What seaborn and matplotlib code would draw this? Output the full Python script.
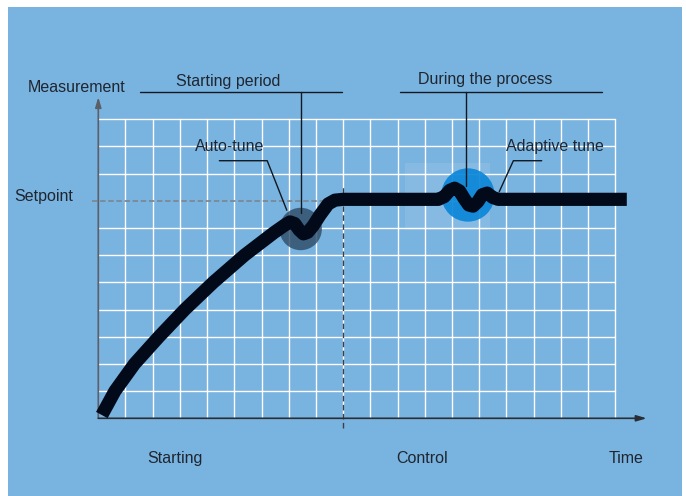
import matplotlib
matplotlib.use("Agg")
import matplotlib.pyplot as plt
from matplotlib.patches import Rectangle, Circle
import seaborn as sns
import pandas as pd

# ---- data (grid units: one cell = 1) ----
curve_x = [0.13, 0.61, 1.33, 2.23, 3.18, 4.23, 5.38, 6.45, 6.85, 7.05, 7.22, 7.38, 7.54,
           7.70, 7.90, 8.15, 8.45, 8.70, 9.00, 12.50, 12.72, 12.92, 13.10, 13.28, 13.45,
           13.62, 13.78, 13.95, 14.12, 14.30, 14.50, 14.70, 19.43]
curve_y = [0.12, 1.00, 2.00, 3.00, 4.00, 5.00, 6.00, 6.82, 7.10, 7.22, 7.16, 6.93, 6.78,
           6.84, 7.08, 7.47, 7.88, 8.02, 8.05, 8.05, 8.15, 8.38, 8.46, 8.36, 8.08,
           7.84, 7.80, 7.96, 8.22, 8.28, 8.12, 8.05, 8.05]
setpoint = 8.0
phase_split = 9.0
n_cols = 19
n_rows = 11
region_labels = ["Starting", "Control"]
region_x = [2.82, 11.9]

sns.set_style("white")
plt.rcParams["font.family"] = ["Liberation Sans", "DejaVu Sans"]

TXT = "#1f2630"
FS = 11.5

fig = plt.figure(figsize=(6.86, 4.96), dpi=100)
fig.patch.set_facecolor("white")
ax = fig.add_axes([0, 0, 1, 1])

# blue panel
ax.add_patch(Rectangle((8 / 686, 0), (682 - 8) / 686, (496 - 7) / 496,
                       transform=ax.transAxes, facecolor="#79b3e0", edgecolor="none", zorder=0))

# grid
for i in range(1, n_cols + 1):
    ax.plot([i, i], [0, n_rows], color="white", lw=1.0, zorder=1)
for j in range(1, n_rows + 1):
    if j == int(setpoint):
        ax.plot([phase_split, n_cols], [j, j], color="white", lw=1.0, zorder=1)
    else:
        ax.plot([0, n_cols], [j, j], color="white", lw=1.0, zorder=1)

# pale box behind adaptive tune
ax.add_patch(Rectangle((11.28, 6.93), 3.12, 2.46, facecolor="white", alpha=0.1,
                       edgecolor="none", zorder=1.5))

# setpoint dashed line
ax.plot([-0.24, phase_split], [setpoint, setpoint], color="#7c8894", lw=1.3,
        ls=(0, (3, 1.5)), zorder=2)
# phase split dashed vertical
ax.plot([phase_split, phase_split], [-0.36, 8.57], color="#3a3f46", lw=1.0,
        ls=(0, (4, 2.5)), zorder=2)

# axes
ax.annotate("", xy=(0, 11.81), xytext=(0, 0),
            arrowprops=dict(arrowstyle="-|>,head_length=0.6,head_width=0.18",
                            color="#5b6068", lw=1.2, shrinkA=0, shrinkB=0), zorder=3)
ax.annotate("", xy=(20.16, 0), xytext=(0, 0),
            arrowprops=dict(arrowstyle="-|>,head_length=0.6,head_width=0.18",
                            color="#2a2e34", lw=1.2, shrinkA=0, shrinkB=0), zorder=3)

# circles
ax.add_patch(Circle((7.44, 6.96), 0.78, facecolor="#2e4a66", alpha=0.8,
                    edgecolor="none", zorder=3))
ax.add_patch(Circle((13.59, 8.21), 0.98, facecolor="#0a86d8", alpha=0.92,
                    edgecolor="none", zorder=3))

# annotation lines
lc = "#111820"
ax.plot([1.53, 8.96], [12.0, 12.0], color=lc, lw=1.0, zorder=4)
ax.plot([7.44, 7.44], [12.0, 7.54], color=lc, lw=1.0, zorder=4)
ax.plot([11.1, 18.5], [12.0, 12.0], color=lc, lw=1.0, zorder=4)
ax.plot([13.52, 13.52], [12.0, 8.54], color=lc, lw=1.0, zorder=4)
ax.plot([4.45, 6.21, 6.93], [9.47, 9.47, 7.65], color=lc, lw=1.0, zorder=4)
ax.plot([16.30, 15.26, 14.74], [9.47, 9.47, 8.33], color=lc, lw=1.0, zorder=4)

# main curve
df = pd.DataFrame({"t": curve_x, "m": curve_y})
sns.lineplot(data=df, x="t", y="m", sort=False, estimator=None, ax=ax,
             color="#020a1a", linewidth=9.5, zorder=5)
ln = ax.get_lines()[-1]
ln.set_solid_capstyle("butt")
ln.set_solid_joinstyle("round")
ax.set_xlim(-98.3 / 27.2, (686 - 98.3) / 27.2)
ax.set_ylim((418.3 - 496) / 27.2, 418.3 / 27.2)
ax.axis("off")

# texts
kw = dict(color=TXT, fontsize=FS, ha="center", va="center", zorder=6)
ax.text(-0.78, 12.18, "Measurement", **kw)
ax.text(-2.0, 8.17, "Setpoint", **kw)
ax.text(4.78, 12.37, "Starting period", **kw)
ax.text(14.22, 12.44, "During the process", **kw)
ax.text(4.84, 10.0, "Auto-tune", **kw)
ax.text(16.79, 10.01, "Adaptive tune", **kw)
for lab, xx in zip(region_labels, region_x):
    ax.text(xx, -1.46, lab, **kw)
ax.text(19.4, -1.46, "Time", **kw)

fig.savefig("out.png", dpi=100)
